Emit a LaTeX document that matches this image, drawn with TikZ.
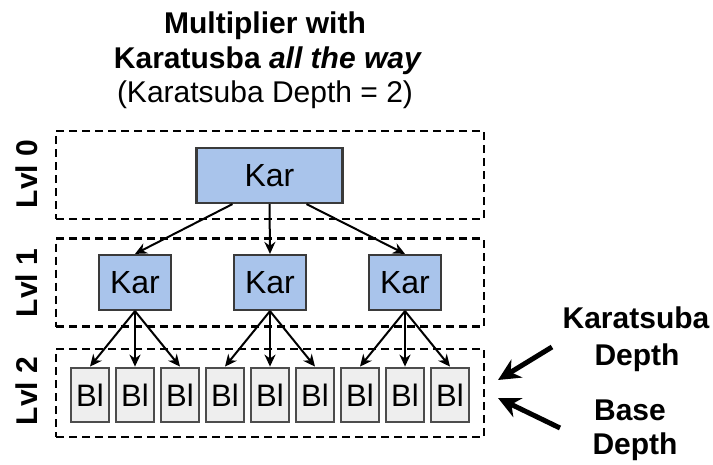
\documentclass[tikz,border=0pt]{standalone}
\usepackage{fontspec}
\setmainfont{Liberation Sans}
\usetikzlibrary{arrows.meta,calc}

\definecolor{karfill}{HTML}{A9C4EB}
\definecolor{karline}{HTML}{3A3A3A}
\definecolor{blfill}{HTML}{EEEEEE}
\definecolor{blline}{HTML}{4D4D4D}

\begin{document}
\begin{tikzpicture}[x=1pt, y=-1pt,
  lvlbox/.style={draw, line width=2.5pt, dash pattern=on 8pt off 5pt,
    minimum width=428pt, minimum height=88pt, inner sep=0pt},
  lvllabel/.style={rotate=90, font=\fontsize{30}{36}\selectfont\bfseries},
  karbox/.style={draw=karline, fill=karfill, line width=2.2pt, minimum height=55pt,
    inner sep=0pt, font=\fontsize{32}{36}\selectfont},
  blbox/.style={draw=blline, fill=blfill, line width=2.8pt, minimum width=38pt,
    minimum height=54pt, inner sep=0pt, font=\fontsize{31}{36}\selectfont},
  karedge/.style={-{Stealth[length=12pt,width=11pt]}, line width=2pt},
  bigarrow/.style={-{Stealth[length=22pt,width=21pt]}, line width=5pt},
  ttl/.style={anchor=base, font=\fontsize{30}{36}\selectfont},
  ttlb/.style={anchor=base, font=\fontsize{30}{36}\selectfont\bfseries}]

\useasboundingbox (0,0) rectangle (713,464);

\node[ttlb] (title1) at (265,33) {Multiplier with};
\node[ttlb] (title2) at (268,68) {Karatusba \textit{all the way}};
\node[ttl] (title3) at (265,102) {(Karatsuba Depth = 2)};

\node[lvlbox] (lvl0) at (270,175) {};
\node[lvlbox] (lvl1) at (270,282.5) {};
\node[lvlbox] (lvl2) at (270,393) {};

\node[lvllabel] (lbl0) at (27,174) {Lvl 0};
\node[lvllabel] (lbl1) at (27,283) {Lvl 1};
\node[lvllabel] (lbl2) at (27,391) {Lvl 2};

\node[karbox, minimum width=146pt] (kar0) at (269.5,175.5) {Kar};
\foreach \i/\x in {1/135, 2/270, 3/405}
  \node[karbox, minimum width=72pt] (kar\i) at (\x,282.5) {Kar};

\foreach \i in {1,...,9}
  \node[blbox] (bl\i) at ({45+45*\i},395) {Bl};

\draw[karedge] ($(kar0.south)!0.5!(kar0.south west)$) -- (kar1.north);
\draw[karedge] (kar0.south) -- (kar2.north);
\draw[karedge] ($(kar0.south)!0.5!(kar0.south east)$) -- (kar3.north);

\foreach \k in {1,2,3}
  \foreach \j in {1,2,3} {
    \pgfmathtruncatemacro\b{3*(\k-1)+\j}
    \draw[karedge] (kar\k.south) -- (bl\b.north);
  }

\node[ttlb] (kdepth1) at (636,328) {Karatsuba};
\node[ttlb] (kdepth2) at (637,365) {Depth};
\node[ttlb] (bdepth1) at (630,420) {Base};
\node[ttlb] (bdepth2) at (635,454) {Depth};

\coordinate (ktail) at (552,347);
\coordinate (khead) at (498,380);
\coordinate (btail) at (560,428);
\coordinate (bhead) at (498,398);
\draw[bigarrow] (ktail) -- (khead);
\draw[bigarrow] (btail) -- (bhead);

\end{tikzpicture}
\end{document}
